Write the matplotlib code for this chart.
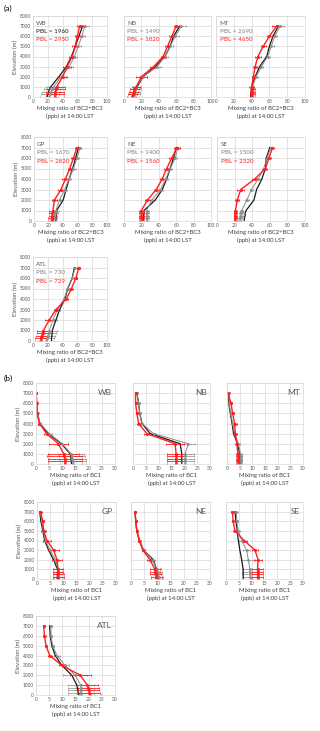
import matplotlib
matplotlib.use("Agg")
import matplotlib.pyplot as plt

plt.rcParams["font.family"] = ["Lato", "DejaVu Sans"]

# heights of the profile levels (m)
HEIGHTS = [0, 250, 500, 750, 1000, 2000, 3000, 4000, 5000, 6000, 7000]
SITES = ["WB", "NB", "MT", "GP", "NE", "SE", "ATL"]
PBL_GREY = [1960, 1490, 2690, 1670, 1400, 1500, 730]
PBL_RED = [2950, 1820, 4650, 2820, 1560, 2320, 729]

# (a) BC2+BC3 mixing ratio (ppb)
A_BLACK = {
    "WB": [19, 20, 21, 22, 24, 35, 45, 52, 57, 62, 67],
    "NB": [12, 12.5, 13, 14, 15, 22, 36, 47, 53, 57, 64],
    "MT": [39, 39, 39.5, 40, 40, 44, 49, 57, 60, 64, 70],
    "GP": [30, 30, 30.5, 31, 31, 40, 44, 48, 53, 57, 61],
    "NE": [22, 22, 22.5, 23, 23, 36, 44, 49, 53, 57, 60],
    "SE": [31, 31, 32, 32, 33, 42, 45, 51, 55, 56, 60],
    "ATL": [25, 25, 25.5, 26, 26, 31, 36, 43, 47, 53, 56],
}
A_GREY = {
    "WB": [22, 23, 24, 26, 28, 38, 49, 56, 61, 66, 70],
    "NB": [11, 12, 12.5, 13, 14, 22, 38, 47, 53, 59, 66],
    "MT": [40, 40, 40.5, 41, 41, 45, 51, 58, 62, 66, 72],
    "GP": [26, 27, 28, 29, 30, 35, 42, 48, 54, 59, 63],
    "NE": [26, 26, 26, 26, 26, 32, 42, 48, 53, 59, 62],
    "SE": [26, 26, 27, 27, 28, 34, 39, 47, 53, 57, 61],
    "ATL": [18, 19, 20, 21, 22, 27, 33, 42, 47, 53, 57],
}
A_GREY_ERR = {
    "WB": [12, 12, 12, 11, 11, 6, 5, 4, 4, 4, 5],
    "NB": [6, 6, 6, 6, 5, 5, 4, 3, 3, 4, 5],
    "MT": [2, 2, 2, 2, 2, 2, 2, 3, 3, 3, 4],
    "GP": [4, 4, 4, 4, 4, 3, 3, 3, 3, 3, 2],
    "NE": [3, 3, 3, 3, 3, 3, 3, 2, 2, 2, 2],
    "SE": [2, 2, 2, 2, 2, 2, 2, 2, 2, 2, 2],
    "ATL": [10, 10, 10, 10, 10, 5, 3, 2, 2, 2, 2],
}
A_RED = {
    "WB": [30, 30, 30, 31, 32, 40, 46, 53, 57, 60, 63],
    "NB": [9, 10, 11, 12, 14, 20, 34, 45, 50, 55, 60],
    "MT": [41, 41, 41, 41, 40, 42, 44, 47, 53, 60, 68],
    "GP": [24, 24, 25, 25, 26, 28, 37, 43, 49, 54, 59],
    "NE": [20, 20, 20, 20, 20, 27, 37, 44, 49, 55, 61],
    "SE": [21, 21, 21, 21, 21, 23, 27, 43, 55, 59, 63],
    "ATL": [11, 11, 12, 13, 14, 22, 31, 45, 52, 58, 62],
}
A_RED_ERR = {
    "WB": [12, 12, 12, 12, 11, 6, 6, 4, 4, 3, 4],
    "NB": [5, 5, 5, 5, 4, 6, 4, 3, 3, 3, 3],
    "MT": [3, 3, 3, 3, 3, 2, 2, 3, 3, 3, 5],
    "GP": [5, 5, 5, 5, 5, 4, 4, 4, 3, 3, 3],
    "NE": [3, 3, 3, 3, 3, 3, 3, 3, 3, 3, 3],
    "SE": [2, 2, 2, 2, 2, 2, 4, 3, 2, 2, 2],
    "ATL": [8, 8, 8, 8, 8, 6, 3, 2, 2, 2, 2],
}

# (b) BC1 mixing ratio (ppb)
B_BLACK = {
    "WB": [13.5, 13.4, 13.3, 13.1, 13, 9.7, 4.7, 1.5, 0.5, 0.3, 0.1],
    "NB": [19, 19, 19, 19, 19, 18.4, 6.7, 3.5, 2.6, 2.2, 1.5],
    "MT": [5.2, 5.2, 5.1, 5.1, 5, 4.2, 2.6, 2, 1.3, 0.7, 0.7],
    "GP": [7.6, 7.7, 7.7, 7.8, 7.8, 6.3, 4.4, 2.9, 2.2, 1.5, 1],
    "NE": [10.4, 10.3, 10.2, 10, 9.7, 8.5, 4.7, 3.2, 2.2, 1.8, 1.5],
    "SE": [6.7, 6.7, 6.7, 6.7, 6.7, 6.1, 5.4, 4.8, 4.4, 3.9, 3.5],
    "ATL": [16.1, 16, 15.8, 15.7, 15.5, 13.6, 9.8, 7.3, 6, 5.4, 5.2],
}
B_GREY = {
    "WB": [14, 14, 13.8, 13.6, 13.3, 10, 5, 1.6, 0.6, 0.3, 0.1],
    "NB": [20.3, 20.3, 20.3, 20.3, 20.3, 21.6, 8, 3.5, 2.6, 2.2, 1.5],
    "MT": [5.5, 5.5, 5.4, 5.4, 5.3, 4.5, 3, 2.2, 1.4, 0.9, 0.8],
    "GP": [8, 8, 8, 8, 8, 7, 5, 3.2, 2.4, 1.8, 1.2],
    "NE": [10.6, 10.5, 10.4, 10.2, 10, 8, 4.9, 3.3, 2.3, 1.9, 1.6],
    "SE": [9.6, 9.5, 9.4, 9.3, 9.3, 8.7, 8, 6.1, 4.8, 4.2, 4],
    "ATL": [17, 17, 17, 17, 17, 14.9, 11, 8, 6.3, 5.7, 5.7],
}
B_GREY_ERR = {
    "WB": [5, 5, 5, 5, 5, 2, 1, 0.4, 0.3, 0.2, 0.2],
    "NB": [3.5, 3.5, 3.5, 3.5, 3.5, 2.5, 1, 0.5, 0.5, 0.5, 0.5],
    "MT": [0.6, 0.6, 0.6, 0.6, 0.6, 0.5, 0.5, 0.4, 0.4, 0.4, 0.4],
    "GP": [1.5, 1.5, 1.5, 1.5, 1.5, 1.2, 1, 0.8, 0.6, 0.5, 0.5],
    "NE": [1.5, 1.5, 1.5, 1.5, 1.5, 1.2, 0.6, 0.4, 0.3, 0.3, 0.3],
    "SE": [3, 3, 3, 3, 3, 2.5, 1.5, 1, 0.6, 0.5, 0.5],
    "ATL": [5, 5, 5, 5, 5, 4.5, 1.5, 1, 0.6, 0.5, 0.5],
}
B_RED = {
    "WB": [11, 11, 11, 10.8, 10.5, 8.5, 4, 1.3, 0.4, 0.2, 0],
    "NB": [16.8, 16.8, 16.8, 16.8, 16.8, 16.4, 5.4, 2.2, 1.5, 1, 1],
    "MT": [4.4, 4.4, 4.4, 4.3, 4.3, 3.9, 3.3, 3, 2.2, 1.6, 0.4],
    "GP": [8.1, 8.1, 8.1, 8, 8, 7.6, 6.3, 3.8, 2.5, 2.2, 1.3],
    "NE": [9.7, 9.6, 9.4, 9.2, 9.1, 7.2, 4.5, 3.1, 2.2, 1.8, 1.5],
    "SE": [12.3, 12.3, 12.3, 12.3, 12.3, 12.5, 11.3, 7.1, 3.5, 2.8, 2.5],
    "ATL": [20.5, 20.3, 20.1, 19.8, 19.5, 16.8, 9.8, 5.2, 3.8, 3.2, 2.9],
}
B_RED_ERR = {
    "WB": [6.5, 6.5, 6.5, 6.5, 6, 3.5, 1, 0.5, 0.4, 0.3, 0.2],
    "NB": [3.5, 3.5, 3.5, 3.5, 3.5, 3.5, 1, 0.5, 0.4, 0.4, 0.4],
    "MT": [0.8, 0.8, 0.8, 0.8, 0.8, 0.6, 0.5, 0.8, 0.6, 0.5, 0.4],
    "GP": [2, 2, 2, 2, 2, 2, 2, 1.5, 0.8, 0.6, 0.5],
    "NE": [2, 2, 2, 2, 2, 1, 0.5, 0.4, 0.3, 0.3, 0.3],
    "SE": [2, 2, 2, 2, 2, 1.5, 1, 1, 0.6, 0.6, 0.5],
    "ATL": [4, 4, 4, 4, 4, 4, 1, 0.8, 0.5, 0.5, 0.4],
}

W, H = 320, 731
# axes boxes in pixels: x0, x1, y_top, y_bottom
A_BOX = {"WB": (33, 107, 16, 97), "NB": (124, 211, 16, 97), "MT": (216, 305, 16, 97),
         "GP": (34, 107, 137, 221), "NE": (124, 211, 137, 221), "SE": (217, 305, 137, 221),
         "ATL": (33, 107, 257, 341)}
B_BOX = {"WB": (36, 115, 383, 464), "NB": (133, 210, 383, 464), "MT": (227, 303, 383, 464),
         "GP": (37, 116, 502, 579), "NE": (131, 210, 502, 579), "SE": (226, 303, 502, 579),
         "ATL": (36, 115, 616, 695)}
LEFT_COL = ("WB", "GP", "ATL")

RED = "#ff1f1f"
GREY = "#8c8c8c"
BLACK = "#1a1a1a"
TXT = "#595959"


def make_axes(fig, box):
    x0, x1, yt, yb = box
    return fig.add_axes([x0 / W, 1 - yb / H, (x1 - x0) / W, (yb - yt) / H])


def style_axes(ax, site, xmax, xstep, xlabel):
    ax.set_xlim(0, xmax)
    ax.set_ylim(0, 8000)
    ax.set_xticks(range(0, xmax + 1, xstep))
    ax.set_yticks(range(0, 8001, 1000))
    ax.grid(True, color="#d9d9d9", lw=0.5)
    ax.set_axisbelow(True)
    for s in ax.spines.values():
        s.set_color("#d9d9d9")
        s.set_linewidth(0.5)
    ax.tick_params(length=0, labelsize=3.5, labelcolor=TXT, pad=1.5)
    if site in LEFT_COL:
        ax.set_ylabel("Elevation (m)", fontsize=4.3, color=TXT, labelpad=1)
    else:
        ax.set_yticklabels([])
    ax.set_xlabel(xlabel, fontsize=4.3, color="#404040", labelpad=1.5, linespacing=1.5)


def draw_profiles(ax, black, grey, grey_err, red, red_err):
    ax.errorbar(grey, HEIGHTS, xerr=grey_err, color=GREY, lw=0.7, elinewidth=0.5,
                capsize=1, capthick=0.5, marker="o", ms=1)
    ax.plot(black, HEIGHTS, color=BLACK, lw=0.9)
    ax.errorbar(red, HEIGHTS, xerr=red_err, color=RED, lw=1.0, elinewidth=0.6,
                capsize=1, capthick=0.6, marker="o", ms=1.2)


fig = plt.figure(figsize=(W / 100, H / 100), dpi=100)

for i, site in enumerate(SITES):
    ax = make_axes(fig, A_BOX[site])
    draw_profiles(ax, A_BLACK[site], A_GREY[site], A_GREY_ERR[site],
                  A_RED[site], A_RED_ERR[site])
    style_axes(ax, site, 100, 20, "Mixing ratio of BC2+BC3\n(ppb) at 14:00 LST")
    ax.text(0.04, 0.91, site, transform=ax.transAxes, fontsize=4.5, color=TXT, va="center")
    ax.text(0.04, 0.81, f"PBL = {PBL_GREY[i]}", transform=ax.transAxes, fontsize=4.5,
            color=BLACK if site == "WB" else "#7f7f7f", va="center")
    ax.text(0.04, 0.71, f"PBL = {PBL_RED[i]}", transform=ax.transAxes, fontsize=4.5,
            color=RED, va="center")

for site in SITES:
    ax = make_axes(fig, B_BOX[site])
    draw_profiles(ax, B_BLACK[site], B_GREY[site], B_GREY_ERR[site],
                  B_RED[site], B_RED_ERR[site])
    style_axes(ax, site, 30, 5, "Mixing ratio of BC1\n(ppb) at 14:00 LST")
    ax.text(0.96, 0.88, site, transform=ax.transAxes, fontsize=6, color=TXT,
            ha="right", va="center")

fig.text(4 / W, 1 - 8 / H, "(a)", fontsize=6, va="center")
fig.text(4 / W, 1 - 378 / H, "(b)", fontsize=6, va="center")

fig.savefig("out.png", dpi=100)
